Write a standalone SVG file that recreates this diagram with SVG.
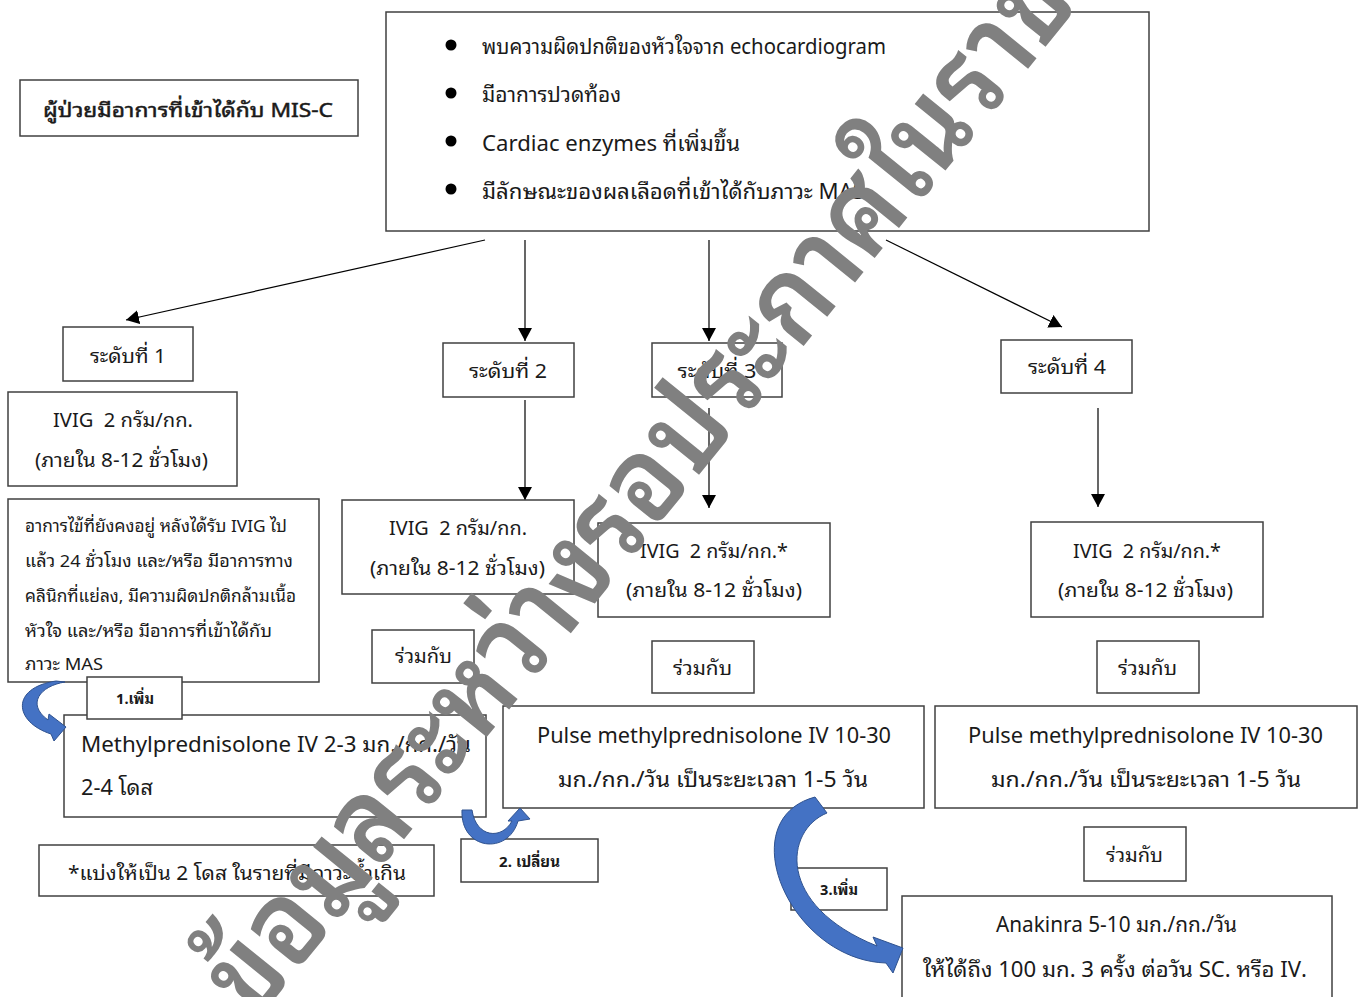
<svg xmlns="http://www.w3.org/2000/svg" width="1360" height="997" viewBox="0 0 1360 997">
<defs>
<marker id="ah" markerUnits="userSpaceOnUse" markerWidth="14" markerHeight="14" viewBox="0 0 14 14" refX="13" refY="7" orient="auto">
<path d="M0,0 L13,7 L0,14 Z" fill="#000"/>
</marker>
<style>
.box{fill:#fff;stroke:#404040;stroke-width:1.5}
.t{font-family:"Noto Sans Thai Looped","Loma","Garuda","Tahoma","Noto Sans Thai","Noto Sans","DejaVu Sans",sans-serif;fill:#1a1a1a;font-size:20px;white-space:pre}
.c{text-anchor:middle}
.s17{font-size:17px}
.s21{font-size:21px}
.s15{font-size:15px;font-weight:bold}
.em{stroke:#1a1a1a;stroke-width:0.5}
.conn line{stroke:#000;stroke-width:1.2;marker-end:url(#ah)}
.blue{fill:#4472C4;stroke:#2F528F;stroke-width:1}
.wm{font-family:"Noto Sans Thai Looped","Loma","Garuda","Noto Sans Thai","Noto Sans","DejaVu Sans",sans-serif;font-weight:600;fill:#808080;font-size:118px}
</style>
</defs>
<rect width="1360" height="997" fill="#fff"/>

<g id="connectors" class="conn">
<line x1="485" y1="240" x2="126" y2="320"/>
<line x1="525" y1="240" x2="525" y2="341"/>
<line x1="709" y1="240" x2="709" y2="341"/>
<line x1="886" y1="240" x2="1062" y2="327"/>
<line x1="525" y1="400" x2="525" y2="500"/>
<line x1="709" y1="408" x2="709" y2="508"/>
<line x1="1098" y1="408" x2="1098" y2="507"/>
</g>

<g id="title">
<rect class="box" x="20" y="80" width="338" height="56"/>
<text class="t em" x="43" y="117" font-size="22" textLength="290" lengthAdjust="spacingAndGlyphs">ผู้ป่วยมีอาการที่เข้าได้กับ MIS-C</text>
</g>

<g id="criteria">
<rect class="box" x="386" y="12" width="763" height="219"/>
<circle cx="451" cy="45" r="5.5" fill="#000"/>
<circle cx="451" cy="93" r="5.5" fill="#000"/>
<circle cx="451" cy="141" r="5.5" fill="#000"/>
<circle cx="451" cy="189" r="5.5" fill="#000"/>
<text class="t s21" x="482" y="54" textLength="404" lengthAdjust="spacingAndGlyphs">พบความผิดปกติของหัวใจจาก echocardiogram</text>
<text class="t s21" x="482" y="102" textLength="139" lengthAdjust="spacingAndGlyphs">มีอาการปวดท้อง</text>
<text class="t s21" x="482" y="151" textLength="258" lengthAdjust="spacingAndGlyphs">Cardiac enzymes ที่เพิ่มขึ้น</text>
<text class="t s21" x="482" y="199" textLength="383" lengthAdjust="spacingAndGlyphs">มีลักษณะของผลเลือดที่เข้าได้กับภาวะ MAS</text>
</g>

<g id="level1">
<rect class="box" x="63" y="327" width="130" height="54"/>
<text class="t c" x="128" y="363" textLength="76" lengthAdjust="spacingAndGlyphs">ระดับที่ 1</text>
</g>
<g id="ivig1">
<rect class="box" x="8" y="392" width="229" height="94"/>
<text class="t c" x="123" y="427" textLength="140" lengthAdjust="spacingAndGlyphs">IVIG  2 กรัม/กก.</text>
<text class="t c" x="121.5" y="467" textLength="173" lengthAdjust="spacingAndGlyphs">(ภายใน 8-12 ชั่วโมง)</text>
</g>
<g id="refractory">
<rect class="box" x="8" y="499" width="311" height="183"/>
<text class="t s17" x="25" y="532" textLength="262" lengthAdjust="spacingAndGlyphs">อาการไข้ที่ยังคงอยู่ หลังได้รับ IVIG ไป</text>
<text class="t s17" x="25" y="567" textLength="268" lengthAdjust="spacingAndGlyphs">แล้ว 24 ชั่วโมง และ/หรือ มีอาการทาง</text>
<text class="t s17" x="25" y="602" textLength="271" lengthAdjust="spacingAndGlyphs">คลินิกที่แย่ลง, มีความผิดปกติกล้ามเนื้อ</text>
<text class="t s17" x="25" y="637" textLength="247" lengthAdjust="spacingAndGlyphs">หัวใจ และ/หรือ มีอาการที่เข้าได้กับ</text>
<text class="t s17" x="25" y="670" textLength="78" lengthAdjust="spacingAndGlyphs">ภาวะ MAS</text>
</g>

<g id="level2">
<rect class="box" x="443" y="343" width="131" height="54"/>
<text class="t c" x="508" y="378" textLength="78" lengthAdjust="spacingAndGlyphs">ระดับที่ 2</text>
</g>
<g id="ivig2">
<rect class="box" x="342" y="500" width="232" height="94"/>
<text class="t c" x="458" y="535" textLength="138" lengthAdjust="spacingAndGlyphs">IVIG  2 กรัม/กก.</text>
<text class="t c" x="457.5" y="575" textLength="175" lengthAdjust="spacingAndGlyphs">(ภายใน 8-12 ชั่วโมง)</text>
</g>
<g id="with2">
<rect class="box" x="372" y="630" width="102" height="53"/>
<text class="t c" x="423.5" y="663" textLength="57" lengthAdjust="spacingAndGlyphs">ร่วมกับ</text>
</g>

<g id="level3">
<rect class="box" x="652" y="343" width="130" height="54"/>
<text class="t c" x="717" y="378" textLength="79" lengthAdjust="spacingAndGlyphs">ระดับที่ 3</text>
</g>
<g id="ivig3">
<rect class="box" x="598" y="523" width="232" height="94"/>
<text class="t c" x="714" y="558" textLength="148" lengthAdjust="spacingAndGlyphs">IVIG  2 กรัม/กก.*</text>
<text class="t c" x="714" y="597" textLength="176" lengthAdjust="spacingAndGlyphs">(ภายใน 8-12 ชั่วโมง)</text>
</g>
<g id="with3">
<rect class="box" x="652" y="641" width="102" height="52"/>
<text class="t c" x="702.5" y="675" textLength="59" lengthAdjust="spacingAndGlyphs">ร่วมกับ</text>
</g>

<g id="level4">
<rect class="box" x="1001" y="340" width="131" height="53"/>
<text class="t c" x="1067" y="374" textLength="78" lengthAdjust="spacingAndGlyphs">ระดับที่ 4</text>
</g>
<g id="ivig4">
<rect class="box" x="1031" y="522" width="232" height="95"/>
<text class="t c" x="1147" y="558" textLength="148" lengthAdjust="spacingAndGlyphs">IVIG  2 กรัม/กก.*</text>
<text class="t c" x="1145.5" y="597" textLength="175" lengthAdjust="spacingAndGlyphs">(ภายใน 8-12 ชั่วโมง)</text>
</g>
<g id="with4">
<rect class="box" x="1097" y="641" width="102" height="52"/>
<text class="t c" x="1147.5" y="675" textLength="59" lengthAdjust="spacingAndGlyphs">ร่วมกับ</text>
</g>

<g id="methylpred">
<rect class="box" x="64" y="715" width="422" height="102"/>
<text class="t s21" x="81" y="752" textLength="390" lengthAdjust="spacingAndGlyphs">Methylprednisolone IV 2-3 มก./กก./วัน</text>
<text class="t s21" x="81" y="795" textLength="72" lengthAdjust="spacingAndGlyphs">2-4 โดส</text>
</g>
<g id="add1">
<rect class="box" x="87" y="677" width="95" height="42"/>
<text class="t c s15" x="135" y="704" textLength="38" lengthAdjust="spacingAndGlyphs">1.เพิ่ม</text>
</g>
<g id="note">
<rect class="box" x="39" y="845" width="395" height="51"/>
<text class="t" x="68" y="880" textLength="338" lengthAdjust="spacingAndGlyphs">*แบ่งให้เป็น 2 โดส ในรายที่มีภาวะน้ำเกิน</text>
</g>

<g id="pulse3">
<rect class="box" x="503" y="706" width="421" height="102"/>
<text class="t c s21" x="714" y="743" textLength="354" lengthAdjust="spacingAndGlyphs">Pulse methylprednisolone IV 10-30</text>
<text class="t c s21" x="713" y="787" textLength="310" lengthAdjust="spacingAndGlyphs">มก./กก./วัน เป็นระยะเวลา 1-5 วัน</text>
</g>
<g id="change2">
<rect class="box" x="461" y="839" width="137" height="43"/>
<text class="t c s15" x="529.5" y="867" textLength="61" lengthAdjust="spacingAndGlyphs">2. เปลี่ยน</text>
</g>

<g id="pulse4">
<rect class="box" x="935" y="706" width="422" height="102"/>
<text class="t c s21" x="1145.5" y="743" textLength="355" lengthAdjust="spacingAndGlyphs">Pulse methylprednisolone IV 10-30</text>
<text class="t c s21" x="1146" y="787" textLength="310" lengthAdjust="spacingAndGlyphs">มก./กก./วัน เป็นระยะเวลา 1-5 วัน</text>
</g>
<g id="with5">
<rect class="box" x="1084" y="827" width="102" height="54"/>
<text class="t c" x="1134.5" y="862" textLength="57" lengthAdjust="spacingAndGlyphs">ร่วมกับ</text>
</g>
<g id="anakinra">
<rect class="box" x="902" y="896" width="430" height="120"/>
<text class="t c s21" x="1116.5" y="932" textLength="241" lengthAdjust="spacingAndGlyphs">Anakinra 5-10 มก./กก./วัน</text>
<text class="t c s21" x="1115" y="977" textLength="384" lengthAdjust="spacingAndGlyphs">ให้ได้ถึง 100 มก. 3 ครั้ง ต่อวัน SC. หรือ IV.</text>
</g>
<g id="add3">
<rect class="box" x="791" y="868" width="96" height="42"/>
<text class="t c s15" x="839" y="895" textLength="38" lengthAdjust="spacingAndGlyphs">3.เพิ่ม</text>
</g>

<g id="curved-arrows">
<path class="blue" d="M 65 682 C 40 686, 26 704, 48 720 L 49 714 L 66 727 L 54 741 L 51 734 C 14 722, 10 688, 56 681 Z"/>
<path class="blue" d="M 462 810 C 460 850, 508 856, 518 821 L 530 819 L 520 808 L 508 821 L 512 821 C 502 840, 476 838, 472 810 Z"/>
<path class="blue" d="M 815 797 L 827 813 C 785 830, 775 905, 877 946 L 873 937 L 903 948 L 893 973 L 886 963 C 790 960, 730 820, 815 797 Z"/>
</g>

<g id="watermark">
<text class="wm" transform="translate(256,1022) rotate(-51)" textLength="1310" lengthAdjust="spacingAndGlyphs">ข้อมูลระหว่างรอประกาศในราช</text>
</g>
</svg>
